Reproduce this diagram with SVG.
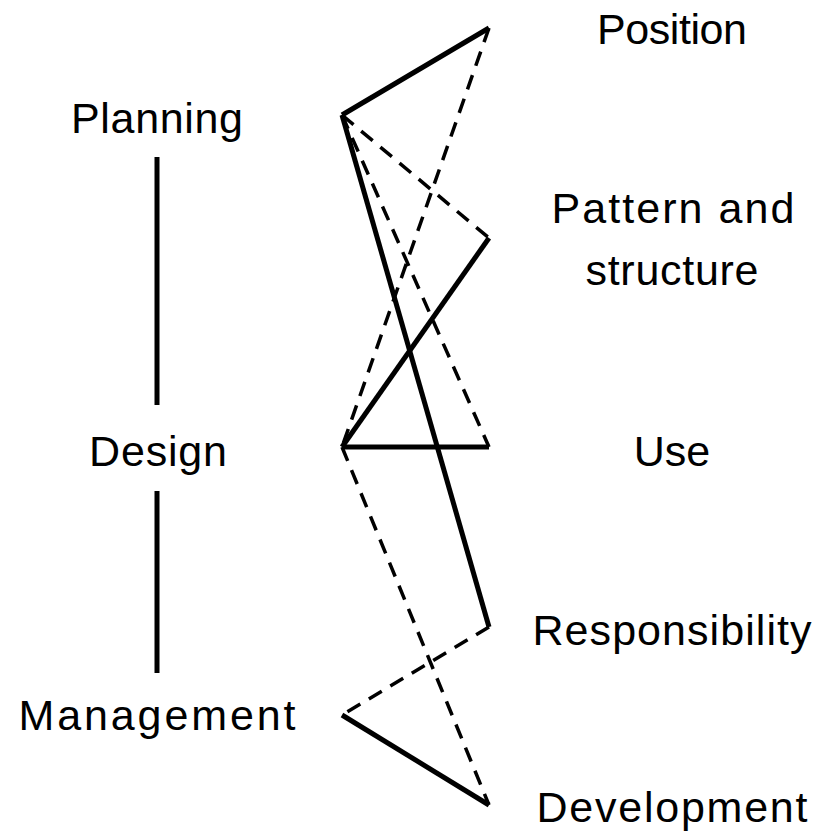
<svg xmlns="http://www.w3.org/2000/svg" width="821" height="835" viewBox="0 0 821 835">
<style>
text{font-family:"Liberation Sans",Arial,sans-serif;font-size:43px;fill:#000;text-anchor:middle}
.s{stroke:#000;stroke-width:5;fill:none;stroke-linecap:butt}
.d{stroke:#000;stroke-width:3.5;fill:none;stroke-dasharray:15 10}
</style>
<rect width="821" height="835" fill="#fff"/>
<g id="left-axis">
<line class="s" x1="157" y1="157" x2="157" y2="405"/>
<line class="s" x1="157" y1="491" x2="157" y2="673"/>
</g>
<g id="connectors">
<line class="d" x1="489" y1="28" x2="342" y2="447"/>
<line class="d" x1="342" y1="115" x2="489" y2="238"/>
<line class="d" x1="342" y1="115" x2="489" y2="447"/>
<line class="d" x1="342" y1="447" x2="489" y2="805"/>
<line class="d" x1="489" y1="627" x2="342" y2="715"/>
<line class="s" x1="342" y1="115" x2="489" y2="28"/>
<line class="s" x1="489" y1="238" x2="342" y2="447"/>
<line class="s" x1="342" y1="447" x2="489" y2="447"/>
<line class="s" x1="342" y1="115" x2="489" y2="627"/>
<line class="s" x1="342" y1="715" x2="489" y2="805"/>
</g>
<g id="planning"><text x="157" y="133" textLength="172" lengthAdjust="spacing">Planning</text></g>
<g id="design"><text x="158" y="466" textLength="138" lengthAdjust="spacing">Design</text></g>
<g id="management"><text x="157" y="730" textLength="277" lengthAdjust="spacing">Management</text></g>
<g id="position"><text x="672" y="44" textLength="150" lengthAdjust="spacing">Position</text></g>
<g id="pattern"><text x="673" y="223" textLength="243" lengthAdjust="spacing">Pattern and</text><text x="672" y="285" textLength="173" lengthAdjust="spacing">structure</text></g>
<g id="use"><text x="672" y="466">Use</text></g>
<g id="responsibility"><text x="672" y="645" textLength="279" lengthAdjust="spacing">Responsibility</text></g>
<g id="development"><text x="672" y="822" textLength="271" lengthAdjust="spacing">Development</text></g>
</svg>
